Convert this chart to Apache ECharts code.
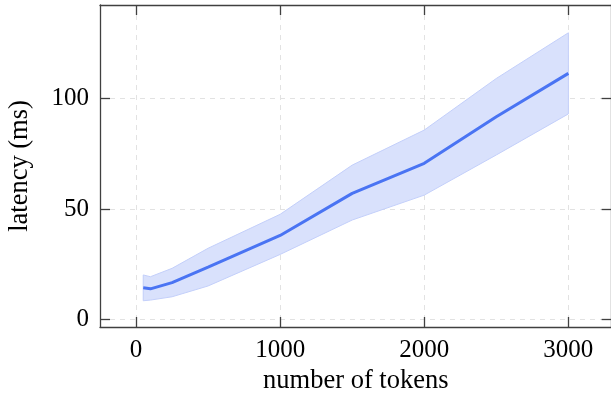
<!DOCTYPE html>
<html>
<head>
<meta charset="utf-8">
<script src="https://cdn.jsdelivr.net/npm/echarts@6/dist/echarts.min.js"></script>
<style>
  html, body { margin: 0; padding: 0; background: #fff; }
  #chart { width: 611px; height: 394px; }
</style>
</head>
<body>
<div id="chart"></div>
<script>
// Latency vs. number of tokens: mean with a min/max band
const tokens  = [50, 100, 250, 500, 1000, 1500, 2000, 2500, 3000];
const latency = [14.3, 13.8, 16.6, 23.6, 38.0, 57.1, 70.7, 91.8, 111.5];
const lower   = [8.4, 8.7, 10.2, 15.1, 29.4, 45.0, 56.3, 74.5, 93.1];
const upper   = [20.1, 19.3, 23.1, 32.2, 47.6, 69.9, 85.8, 109.2, 129.9];

const xTicks = [0, 1000, 2000, 3000];
const yTicks = [0, 50, 100];

const FONT = 'Liberation Serif';
const FS_TICK = 25;
const FS_NAME = 26.5;
const AXIS = '#404040';
const LINE = '#4a74f3';
const BAND = '#d9e1fc';
const BAND_EDGE = '#c3cffa';

const pairs = (xs, ys) => xs.map((x, i) => [x, ys[i]]);
const bandRows = tokens.map((t, i) => [t, lower[i], upper[i]]);

const chart = echarts.init(document.getElementById('chart'), null, { renderer: 'canvas' });

const frameAxis = {
  type: 'value',
  axisLine: { show: true, onZero: false, lineStyle: { color: AXIS, width: 1.3 } },
  axisTick: { show: true, inside: true, length: 10, lineStyle: { color: AXIS, width: 1.3 } },
  axisLabel: { show: false },
  splitLine: { show: false }
};

// Filled region between the lower and upper bounds
function renderBand(params, api) {
  if (params.dataIndexInside !== 0) return null;
  const n = params.dataInsideLength;
  const top = [], bottom = [];
  for (let i = 0; i < n; i++) {
    const x = api.value(0, i);
    bottom.push(api.coord([x, api.value(1, i)]));
    top.push(api.coord([x, api.value(2, i)]));
  }
  const poly = top.concat(bottom.reverse());
  return {
    type: 'polygon',
    shape: { points: poly },
    style: { fill: BAND, stroke: BAND_EDGE, lineWidth: 1 }
  };
}

chart.setOption({
  animation: false,
  grid: { left: 100, top: 5, width: 511.6, height: 322, outerBoundsMode: 'none', containLabel: false },
  xAxis: [
    {
      type: 'value', min: -250, max: 3300,
      name: 'number of tokens', nameLocation: 'middle', nameGap: 39,
      nameTextStyle: { fontFamily: FONT, fontSize: FS_NAME, color: '#000' },
      axisLine: { show: true, onZero: false, lineStyle: { color: AXIS, width: 1.3 } },
      axisTick: { show: true, inside: true, length: 10, customValues: xTicks, lineStyle: { color: AXIS, width: 1.3 } },
      axisLabel: { customValues: xTicks, margin: 11, fontFamily: FONT, fontSize: FS_TICK, color: '#000', formatter: v => String(v) },
      splitLine: { show: true, lineStyle: { color: '#e2e2e2', type: [5, 5], width: 1 } }
    },
    Object.assign({}, frameAxis, {
      position: 'top', min: -250, max: 3300,
      axisTick: Object.assign({}, frameAxis.axisTick, { customValues: xTicks })
    })
  ],
  yAxis: [
    {
      type: 'value', min: -3.5, max: 142.5,
      name: 'latency (ms)', nameLocation: 'middle', nameGap: 66, nameRotate: 90,
      nameTextStyle: { fontFamily: FONT, fontSize: FS_NAME, color: '#000' },
      axisLine: { show: true, onZero: false, lineStyle: { color: AXIS, width: 1.3 } },
      axisTick: { show: true, inside: true, length: 10, customValues: yTicks, lineStyle: { color: AXIS, width: 1.3 } },
      axisLabel: { customValues: yTicks, margin: 11, fontFamily: FONT, fontSize: FS_TICK, color: '#000', formatter: v => String(v) },
      splitLine: { show: true, lineStyle: { color: '#e2e2e2', type: [5, 5], width: 1 } }
    },
    Object.assign({}, frameAxis, {
      position: 'right', min: -3.5, max: 142.5,
      axisTick: Object.assign({}, frameAxis.axisTick, { customValues: yTicks })
    })
  ],
  series: [
    {
      type: 'custom', name: 'range', data: bandRows,
      renderItem: renderBand, silent: true, z: 2,
      encode: { x: 0, y: [1, 2] }
    },
    {
      type: 'line', name: 'latency', data: pairs(tokens, latency),
      symbol: 'none', lineStyle: { color: LINE, width: 3 }, z: 3
    }
  ]
});
</script>
</body>
</html>
